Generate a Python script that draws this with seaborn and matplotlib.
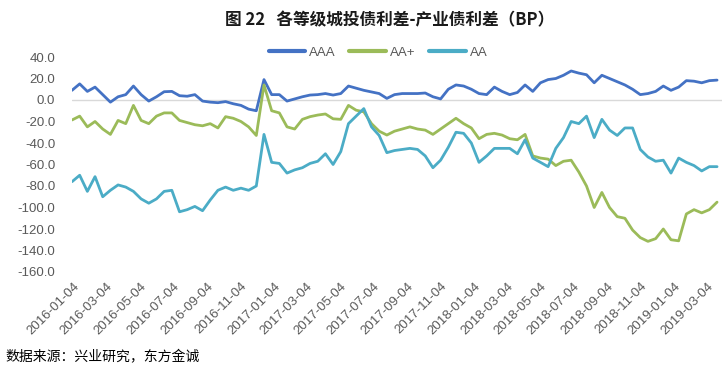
import matplotlib
matplotlib.use('Agg')
import matplotlib.pyplot as plt
import matplotlib.transforms as mtransforms
import seaborn as sns
import pandas as pd

sns.set_theme(style='white')
plt.rcParams['font.family'] = ['Liberation Sans', 'Noto Sans CJK SC', 'DejaVu Sans']

# sampling grid: one reading every two weeks
dates = pd.date_range('2016-01-04', periods=85, freq='14D')

aaa = [9, 15, 8, 12, 5, -2, 3, 5, 13, 5,
       -1, 3, 7.7, 8, 4, 3.5, 5, -1, -2, -2.5,
       -1.5, -3.5, -5, -8.5, -10, 19, 5, 5, -1, 1,
       3, 4.6, 5, 6, 4.6, 6, 13, 11, 9, 7.5,
       6, 1.5, 5, 6, 6, 6, 6.5, 3, 1, 10,
       14, 13, 10, 6, 5, 12, 8, 5, 7, 14,
       8, 16, 19, 20, 23, 27, 25, 23.5, 16, 23,
       20, 17, 14, 10, 5, 6, 8, 13, 9, 12,
       18, 17.5, 16, 18, 18.5]

aa_plus = [-18.6, -15, -25, -20, -27, -32, -19, -22, -5, -19,
           -22, -15, -12, -12, -19, -21, -23, -24, -22, -26,
           -15.5, -17, -20, -25, -33, 14, -10, -12, -25, -27,
           -18, -15.5, -14, -13, -17.5, -18, -5, -9.5, -11, -22,
           -29, -32.6, -29, -27, -25, -27, -28, -32, -27, -22,
           -17, -22, -26, -36, -32, -31, -32.6, -36, -37, -32,
           -52, -54, -55, -61, -57, -56, -67, -80, -100, -86,
           -100, -108.5, -110, -121, -128, -131.5, -129, -120, -130, -131,
           -106, -102, -105, -102, -95]

aa = [-76, -70, -85, -71.3, -90, -84, -79, -81, -85, -92,
      -96, -92, -85, -84, -104, -102, -99, -103, -93, -84,
      -81, -84, -82, -84, -80, -32, -58, -59, -68, -65,
      -63, -59, -57, -50, -60, -48, -22, -15, -8, -25,
      -33, -49, -47, -46, -45, -46, -52, -63, -56, -44,
      -30, -31, -40, -58, -52, -45, -45, -45, -50, -37,
      -54, -58, -62, -45, -35, -20, -22, -15, -35, -18,
      -28, -33, -26, -26, -46, -53, -57, -56, -68, -54,
      -58, -61, -66, -62, -62]

series_names = ['AAA', 'AA+', 'AA']
colors = {'AAA': '#4472C4', 'AA+': '#9BBB59', 'AA': '#4BACC6'}

tick_labels = ['2016-01-04', '2016-03-04', '2016-05-04', '2016-07-04', '2016-09-04',
               '2016-11-04', '2017-01-04', '2017-03-04', '2017-05-04', '2017-07-04',
               '2017-09-04', '2017-11-04', '2018-01-04', '2018-03-04', '2018-05-04',
               '2018-07-04', '2018-09-04', '2018-11-04', '2019-01-04', '2019-03-04']

df = pd.DataFrame({'date': dates, 'AAA': aaa, 'AA+': aa_plus, 'AA': aa})
long_df = df.melt(id_vars='date', value_vars=series_names,
                  var_name='series', value_name='spread')

fig = plt.figure(figsize=(7.26, 3.79), dpi=100)
ax = fig.add_axes([72 / 726, 1 - 272 / 379, 650 / 726, 215 / 379])

ax.axhline(0, color='#d9d9d9', lw=1, zorder=0)
sns.lineplot(data=long_df, x='date', y='spread', hue='series',
             hue_order=series_names, palette=colors, linewidth=2, ax=ax)

ax.set_xlim(pd.Timestamp('2016-01-04'), pd.Timestamp('2019-04-03'))
ax.set_ylim(-160, 40)
yticks = list(range(-160, 41, 20))
ax.set_yticks(yticks)
ax.set_yticklabels([f'{v:.1f}' for v in yticks])
ax.set_xticks(pd.to_datetime(tick_labels))
ax.set_xticklabels(tick_labels, rotation=45, ha='right', va='center',
                   rotation_mode='anchor')
ax.set_xlabel('')
ax.set_ylabel('')
for s in ax.spines.values():
    s.set_visible(False)
ax.tick_params(axis='both', length=0, labelsize=9.5, labelcolor='#595959')
ax.tick_params(axis='y', pad=12)
ax.tick_params(axis='x', pad=9)

# nudge the date labels a little to the right, as in the original
shift = mtransforms.ScaledTranslation(4 / 72, 0, fig.dpi_scale_trans)
for lab in ax.get_xticklabels():
    lab.set_transform(lab.get_transform() + shift)

handles, labels = ax.get_legend_handles_labels()
leg = ax.legend(handles, labels, loc='center', ncol=3, frameon=False,
                bbox_to_anchor=(378 / 726, 1 - 53 / 379), bbox_transform=fig.transFigure,
                handlelength=2.8, handletextpad=0.3, columnspacing=1.0,
                fontsize=9.5, labelcolor='#595959')
for line in leg.get_lines():
    line.set_linewidth(3)

fig.text(390 / 726, 1 - 20 / 379, '图 22   各等级城投债利差-产业债利差（BP）',
         ha='center', va='center', fontsize=12, fontweight='bold',
         family=['Noto Sans CJK SC', 'DejaVu Sans'], color='#1a1a1a')
fig.text(5 / 726, 1 - 357 / 379, '数据来源：兴业研究，东方金诚',
         ha='left', va='center', fontsize=10,
         family=['Noto Sans CJK SC', 'DejaVu Sans'], color='black')

fig.savefig('out.png', dpi=100)
